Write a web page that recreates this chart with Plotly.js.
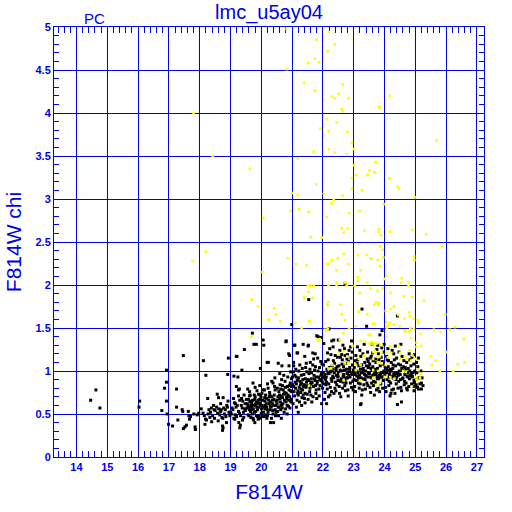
<!DOCTYPE html>
<html><head><meta charset="utf-8">
<script src="https://cdn.plot.ly/plotly-3.0.1.min.js"></script>
<style>html,body{margin:0;padding:0;background:#fff}#chart{width:512px;height:512px}</style>
</head><body><div id="chart"></div>
<script>
// [F814W magnitude, F814W chi] for stars drawn in black
const blackStars = [
[14.46,0.66],[14.63,0.78],[14.76,0.57],[16.05,0.65],[16.03,0.58],[16.77,0.54],[16.86,0.80],[16.92,0.87],[16.92,1.01],[16.92,0.65],[16.94,0.50],[16.99,0.38],
[17.12,0.36],[17.25,0.79],[17.47,1.18],[17.25,0.58],[17.29,0.43],[17.43,0.55],[17.45,0.53],[17.47,0.33],[17.52,0.35],[17.57,0.37],[17.65,0.48],[17.67,0.44],[17.63,0.53],[17.81,0.50],[17.85,0.35],[17.86,0.32],[17.92,0.49],[17.97,0.51],[17.70,0.47],
[18.05,0.56],[18.12,1.12],[18.20,0.95],[18.26,0.68],[18.11,0.51],[18.19,0.44],[18.22,0.43],[18.33,0.46],[18.47,0.55],[18.50,0.54],[18.39,0.41],[18.17,0.38],[18.30,0.55],[18.35,0.52],[18.42,0.48],[18.27,0.50],[18.45,0.60],[18.38,0.57],[18.15,0.48],[18.48,0.45],
[18.57,0.73],[18.61,0.69],[18.55,0.58],[18.68,0.53],[18.70,0.55],[18.72,0.46],[18.75,0.45],[18.74,0.36],[18.76,0.34],[18.74,0.31],[18.60,0.42],[18.76,0.69],[18.88,0.60],[18.90,0.58],[18.93,1.15],[18.91,0.96],[18.80,0.50],[18.83,0.55],[18.85,0.47],[18.65,0.49],[18.95,0.52],[18.58,0.51],[18.62,0.56],[18.78,0.57],[18.98,0.48],[18.87,0.40],[18.68,0.62],[18.92,0.65],
[19.00,0.52],[19.03,0.50],[19.11,0.45],[19.14,0.44],[19.11,0.94],[19.13,0.63],[19.16,0.62],[19.19,1.17],[19.24,0.93],[19.19,0.82],[19.26,0.78],[19.29,0.79],[19.26,0.71],[19.27,0.40],[19.30,0.34],[19.32,0.37],[19.26,0.53],[19.29,0.51],[19.37,1.01],[19.45,1.25],[19.46,0.56],[19.48,0.54],[19.43,0.46],[19.21,1.17],[19.05,0.57],[19.08,0.55],[19.18,0.58],[19.22,0.60],[19.35,0.60],[19.38,0.57],[19.40,0.65],[19.42,0.52],[19.33,0.48],[19.15,0.49],[19.20,0.47],[19.36,0.68],[19.44,0.72],[19.10,0.68],[19.47,0.62],[19.30,0.66],[19.39,0.43],
[19.54,0.62],[19.57,0.60],[19.57,0.49],[19.60,0.48],[19.56,0.79],[19.62,0.71],[19.64,0.72],[19.66,0.65],[19.69,0.63],[19.72,0.66],[19.73,0.45],[19.75,0.43],[19.77,0.72],[19.80,0.70],[19.80,0.81],[19.71,1.44],[19.76,1.31],[19.84,1.31],[19.97,1.03],[19.73,0.86],[19.95,0.83],[19.90,0.66],[19.95,0.67],[19.85,0.58],[19.92,0.58],[19.98,0.60],[19.88,0.47],[19.93,0.48],[19.90,0.44],[19.97,0.45],[19.78,0.52],[19.82,0.53],[19.70,0.55],[19.65,0.53],[19.60,0.58],[19.87,0.62],[19.53,0.57],[19.58,0.67],[19.62,0.76],[19.68,0.58],[19.75,0.60],[19.83,0.64],[19.91,0.73],[19.86,0.77],[19.99,0.70],[19.66,0.46],[19.79,0.40],[19.52,0.67],
[19.61,0.55],[19.67,0.60],[19.74,0.56],[19.81,0.61],[19.88,0.55],[19.94,0.63],[20.01,0.56],[20.07,0.52],[20.13,0.60],[20.19,0.55],[20.24,0.66],[20.29,0.59],[20.36,0.62],[20.41,0.67],[20.47,0.60],[19.70,0.50],[19.84,0.48],[20.00,0.51],[20.18,0.45],[20.37,0.54],[19.63,0.64],[19.79,0.67],[19.96,0.72],[20.11,0.69],[20.28,0.72],[20.43,0.82],
[20.06,1.36],[20.19,1.10],[20.06,0.78],[20.10,0.78],[20.08,1.30],[20.23,1.10],[20.03,0.60],[20.08,0.58],[20.12,0.56],[20.17,0.58],[20.03,0.47],[20.10,0.47],[20.15,0.49],[20.20,0.48],[20.05,0.66],[20.12,0.65],[20.18,0.68],[20.25,0.62],[20.30,0.64],[20.35,0.70],[20.34,0.88],[20.38,0.86],[20.30,0.40],[20.40,0.40],[20.22,0.52],[20.28,0.55],[20.32,0.58],[20.40,0.60],[20.45,0.55],[20.48,0.65],[20.42,0.72],[20.27,0.75],[20.22,0.80],[20.45,0.78],[20.14,0.72],[20.38,0.50],[20.48,0.52],[20.02,0.74],[20.20,0.85],[20.44,0.92],[20.36,0.66],[20.16,0.62],[20.26,0.70],[20.46,0.48],[20.33,0.45],
[20.55,1.09],[20.60,0.97],[20.81,1.35],[20.80,1.34],[20.92,1.18],[20.89,1.20],[20.90,1.06],[20.67,1.06],[20.99,1.54],
[20.51,0.62],[20.57,0.76],[20.63,0.55],[20.69,0.83],[20.75,0.66],[20.81,0.74],[20.88,0.59],[20.94,0.86],
[20.52,0.80],[20.58,0.58],[20.64,0.71],[20.70,0.62],[20.77,0.88],[20.83,0.68],[20.90,0.78],[20.96,0.64],
[20.53,0.53],[20.60,0.68],[20.66,0.90],[20.72,0.73],[20.79,0.56],[20.85,0.82],[20.92,0.70],[20.98,0.91],
[20.54,0.70],[20.61,0.84],[20.67,0.61],[20.74,0.52],[20.80,0.64],[20.86,0.93],[20.93,0.57],[20.99,0.76],
[20.56,0.48],[20.65,0.45],[20.73,0.95],[20.84,0.50],[20.95,0.99],[20.71,0.78],[20.87,0.72],[20.62,0.64],[20.97,0.67],
[20.52,0.66],[20.59,0.72],[20.64,0.60],[20.69,0.69],[20.76,0.75],[20.82,0.70],[20.89,0.66],[20.95,0.77],[20.55,0.58],[20.68,0.57],[20.78,0.81],[20.91,0.83],[20.63,0.79],[20.84,0.60],[20.98,0.82],
[21.07,1.30],[21.09,1.30],[21.18,1.21],[21.16,1.21],[21.05,1.10],[21.05,1.06],[21.36,1.31],[21.41,1.17],
[21.02,0.84],[21.08,0.71],[21.13,0.93],[21.19,0.77],[21.26,0.88],[21.32,0.69],[21.38,0.96],[21.45,0.81],
[21.03,0.62],[21.10,0.87],[21.16,0.66],[21.22,1.00],[21.29,0.79],[21.35,0.90],[21.42,0.74],[21.48,0.99],
[21.04,0.99],[21.11,0.80],[21.17,0.89],[21.24,0.64],[21.30,0.95],[21.37,0.82],[21.44,1.04],
[21.06,0.76],[21.12,1.02],[21.20,0.72],[21.27,0.84],[21.33,1.03],[21.40,0.68],[21.47,0.87],
[21.01,0.93],[21.14,0.58],[21.21,0.92],[21.28,0.75],[21.34,0.78],[21.43,0.91],[21.49,0.73],
[21.20,0.52],[21.42,0.63],[21.09,0.95],[21.25,1.07],[21.46,1.09],[21.31,0.60],
[21.05,0.82],[21.14,0.85],[21.23,0.81],[21.31,0.86],[21.39,0.84],[21.47,0.83],[21.18,0.74],[21.36,0.72],
[21.53,1.30],[21.52,1.29],[21.67,1.21],[21.75,1.20],[21.80,1.41],[21.84,1.40],[21.93,1.39],[21.54,1.83],
[21.51,0.90],[21.57,0.76],[21.63,0.98],[21.69,0.82],[21.76,1.05],[21.82,0.88],[21.88,0.71],[21.95,0.97],
[21.52,0.67],[21.58,1.02],[21.65,0.86],[21.71,0.95],[21.78,0.78],[21.84,1.00],[21.91,0.83],[21.97,1.08],
[21.55,0.97],[21.61,0.72],[21.67,1.07],[21.74,0.89],[21.80,0.68],[21.86,0.93],[21.93,1.11],[21.99,0.80],
[21.56,0.83],[21.62,0.91],[21.68,0.70],[21.73,1.01],[21.79,0.93],[21.87,0.79],[21.94,0.89],
[21.59,1.10],[21.70,1.14],[21.83,1.15],[21.96,0.62],[21.64,0.64],[21.77,0.74],[21.89,1.04],[21.98,0.92],[21.60,0.85],
[21.55,0.89],[21.63,0.87],[21.72,0.91],[21.81,0.85],[21.90,0.90],[21.98,0.87],[21.58,0.80],[21.76,0.83],[21.94,0.95],
[22.03,1.32],[22.20,1.49],[22.35,1.36],[22.33,1.28],[22.29,1.35],[22.05,0.67],[22.12,0.62],
[22.02,1.07],[22.11,0.93],[22.17,1.13],[22.24,0.81],[22.31,1.02],[22.41,0.87],[22.47,1.16],
[22.06,0.96],[22.14,0.79],[22.21,1.04],[22.27,0.91],[22.36,0.74],[22.43,1.01],[22.49,0.89],
[22.04,0.85],[22.09,1.11],[22.16,0.97],[22.23,0.72],[22.29,0.88],[22.38,1.09],[22.44,0.95],
[22.07,0.75],[22.13,1.02],[22.19,0.85],[22.26,1.19],[22.32,0.94],[22.39,0.80],[22.46,1.05],
[22.08,0.90],[22.18,0.70],[22.25,0.99],[22.34,1.12],[22.42,0.77],[22.48,0.93],
[22.15,1.21],[22.37,0.98],[22.22,1.26],[22.01,0.98],[22.28,0.76],[22.45,0.84],[22.10,0.84],[22.30,1.06],[22.40,1.18],
[22.05,0.93],[22.20,0.97],[22.35,0.92],[22.12,0.87],[22.42,1.03],[22.27,1.00],
[22.50,1.36],[22.55,1.24],[22.65,1.30],[22.72,1.18],[22.72,2.02],[22.70,1.26],
[22.52,1.06],[22.59,0.91],[22.63,1.13],[22.71,0.83],[22.77,1.02],[22.84,0.95],[22.91,1.15],[22.97,0.88],
[22.53,0.82],[22.60,1.00],[22.67,0.93],[22.74,1.09],[22.81,0.78],[22.87,1.04],[22.94,0.97],
[22.51,0.95],[22.57,1.16],[22.64,0.80],[22.69,1.01],[22.76,0.92],[22.83,1.11],[22.89,0.86],[22.96,1.07],
[22.54,0.74],[22.62,1.08],[22.68,0.96],[22.75,0.86],[22.80,1.19],[22.86,0.99],[22.93,0.81],[22.99,1.01],
[22.56,1.01],[22.66,0.87],[22.73,0.77],[22.79,0.97],[22.88,0.93],[22.95,1.22],
[22.61,1.19],[22.78,1.14],[22.90,1.28],[22.58,0.70],[22.82,0.71],[22.93,1.35],[22.98,0.78],[22.85,1.24],[22.67,1.05],
[22.50,0.98],[22.65,0.95],[22.80,0.92],[22.95,0.96],[22.72,0.89],[22.57,0.88],[22.87,1.02],
[23.27,1.72],[23.42,1.52],[23.24,0.62],[23.22,0.61],
[23.02,1.04],[23.08,0.89],[23.13,1.13],[23.19,0.95],[23.26,1.07],[23.33,0.84],[23.39,1.00],[23.46,0.93],
[23.03,0.82],[23.10,1.00],[23.16,0.92],[23.23,1.17],[23.29,0.98],[23.36,1.10],[23.43,0.86],[23.49,1.05],
[23.05,0.96],[23.11,1.09],[23.18,0.80],[23.24,0.92],[23.31,1.03],[23.37,0.90],[23.44,1.14],
[23.01,0.90],[23.07,1.18],[23.14,0.98],[23.21,0.85],[23.28,0.78],[23.35,0.96],[23.41,1.06],[23.48,0.98],
[23.06,0.76],[23.15,0.86],[23.22,1.02],[23.30,1.20],[23.38,0.79],[23.46,0.83],
[23.12,1.28],[23.34,1.31],[23.45,1.22],[23.26,0.72],[23.04,1.12],[23.20,1.24],[23.40,0.94],[23.17,1.06],[23.32,0.91],[23.47,1.11],
[23.10,0.94],[23.25,0.98],[23.40,0.95],[23.02,0.97],[23.32,1.00],[23.17,0.90],[23.47,1.04],
[23.60,1.31],[23.92,1.47],[23.99,1.31],[23.85,1.42],[23.78,1.30],
[23.52,1.08],[23.58,0.92],[23.63,1.12],[23.70,0.87],[23.77,1.03],[23.83,0.95],[23.89,1.16],[23.96,0.89],
[23.53,0.81],[23.59,1.01],[23.66,0.96],[23.72,1.10],[23.79,0.80],[23.86,1.06],[23.93,0.98],
[23.51,0.97],[23.57,1.17],[23.64,0.83],[23.69,1.02],[23.76,0.93],[23.82,1.13],[23.88,0.85],[23.95,1.08],
[23.55,0.75],[23.62,1.05],[23.68,0.99],[23.74,0.78],[23.80,1.20],[23.87,0.97],[23.94,0.80],[23.98,1.00],
[23.56,1.03],[23.65,0.88],[23.73,0.96],[23.81,0.91],[23.90,0.93],[23.97,1.22],
[23.61,1.21],[23.75,1.25],[23.91,1.27],[23.67,0.72],[23.84,0.76],[23.54,1.15],[23.71,1.14],[23.93,1.11],[23.58,0.86],[23.78,0.99],
[23.55,0.93],[23.70,0.97],[23.85,0.94],[23.62,0.95],[23.92,0.93],[23.77,0.91],
[24.42,1.64],[24.53,1.31],[24.18,0.71],[24.42,0.61],
[24.02,1.05],[24.08,0.90],[24.13,1.12],[24.20,0.86],[24.27,1.03],[24.33,0.95],[24.39,1.15],[24.46,0.88],
[24.03,0.81],[24.10,1.01],[24.16,0.96],[24.22,1.10],[24.29,0.79],[24.36,1.06],[24.43,0.98],
[24.01,0.96],[24.07,1.17],[24.14,0.83],[24.19,1.02],[24.26,0.93],[24.32,1.13],[24.38,0.85],[24.45,1.08],
[24.05,0.76],[24.12,1.05],[24.18,0.99],[24.24,0.78],[24.30,1.20],[24.37,0.97],[24.44,0.80],[24.48,1.00],
[24.06,1.03],[24.15,0.88],[24.23,0.94],[24.31,0.91],[24.40,0.93],[24.47,1.22],
[24.11,1.26],[24.25,1.24],[24.35,1.29],[24.21,0.74],[24.34,0.74],[24.09,1.13],[24.28,1.07],
[24.00,0.99],[24.15,0.93],[24.30,0.97],[24.45,0.95],[24.22,1.01],[24.07,0.98],[24.37,0.90],
[24.55,0.64],[24.72,0.80],[24.96,0.77],
[24.52,1.07],[24.58,0.91],[24.63,1.12],[24.70,0.86],[24.77,1.03],[24.83,0.95],[24.89,1.16],[24.96,0.89],
[24.53,0.81],[24.59,1.01],[24.66,0.96],[24.72,1.10],[24.79,0.82],[24.86,1.06],[24.93,0.98],
[24.51,0.96],[24.57,1.17],[24.64,0.84],[24.69,1.02],[24.76,0.93],[24.82,1.13],[24.88,0.85],[24.95,1.08],
[24.55,0.77],[24.62,1.05],[24.68,0.99],[24.74,0.78],[24.80,1.20],[24.87,0.97],[24.94,0.82],[24.98,1.00],
[24.56,1.03],[24.65,0.88],[24.73,0.94],[24.81,0.91],[24.90,0.93],[24.97,1.19],
[24.60,0.92],[24.75,0.98],[24.90,0.94],[24.52,0.90],[24.82,1.00],[24.67,1.04],[24.97,0.86],
[25.07,0.81],[25.10,0.79],[25.20,0.79],[25.20,0.86],[25.02,0.90],[25.05,0.98],[25.08,1.05],[25.12,0.92],[25.15,0.85],[25.04,1.10],[25.18,1.00],[25.25,0.83],[25.03,0.84],[25.10,1.15],[25.22,0.92]
];

// [F814W magnitude, F814W chi] for stars drawn in yellow
const yellowStars = [
[20.82,4.98],[22.19,4.94],[21.79,4.85],[22.38,4.80],[22.16,4.72],[21.74,4.63],[21.51,4.58],[21.87,4.59],[20.82,4.51],[21.38,4.35],[22.64,4.33],[21.74,4.26],[22.51,4.22],[22.29,4.19],[22.38,4.17],[22.83,4.17],[23.82,4.07],[22.61,4.05],[22.64,4.02],[22.13,3.93],[22.45,3.89],[21.92,3.82],[22.19,3.79],[22.80,3.78],[22.94,3.65],[23.01,3.58],[22.19,3.58],[21.70,3.55],[22.39,3.54],[22.77,3.52],[21.18,3.47],[19.63,3.35],[23.01,3.39],[23.72,3.43],[23.51,3.33],[23.46,3.28],[23.69,3.31],[23.07,3.28],[22.94,3.24],
[17.80,4.00],[18.42,3.50],[18.20,2.39],[17.77,2.28],[19.69,1.83],[19.69,1.40],
[24.17,4.20],[23.85,4.07],[25.69,3.68],[24.17,3.24],[24.43,3.14],[24.47,3.12],[24.98,3.02],[23.97,2.94],[25.36,2.59],[24.91,2.64],[25.86,2.45],[23.94,2.41],[23.85,2.45],
[21.79,3.17],[21.00,3.07],[21.18,3.05],[22.03,3.06],[22.64,3.04],[22.35,2.99],[22.28,2.95],[22.94,3.12],[23.26,3.10],[23.44,3.28],[21.22,2.88],[20.95,2.86],[21.53,2.85],[22.86,2.84],[23.20,2.86],[22.12,2.79],[20.06,2.78],[22.61,2.66],[22.81,2.66],[22.68,2.61],[23.35,2.63],[23.82,2.65],[21.60,2.56],[21.96,2.55],[20.86,2.31],[21.12,2.24],[21.47,2.23],[22.28,2.29],[22.16,2.24],[22.48,2.31],[22.68,2.36],[23.14,2.35],[23.42,2.35],[23.55,2.31],[23.78,2.29],[22.83,2.24],[22.44,2.17],[23.22,2.17],[23.13,2.09],[23.13,2.05],[20.04,2.15],[23.44,2.03],[22.46,2.03],[22.71,2.03],[22.75,2.03],[21.51,1.99],[21.60,1.99],[22.18,2.00],[22.44,2.00],[22.77,1.99],[23.03,1.99],[23.20,1.91],[23.54,1.96],[23.78,1.93],[19.89,1.75],[21.38,1.86],[21.40,1.84],[21.53,1.92],[22.17,1.80],[22.15,1.77],[22.57,1.77],[20.41,1.73],[20.47,1.66],[20.25,1.59],[20.62,1.58],[21.08,1.56],[21.57,1.58],[21.31,1.50],[22.61,1.66],[22.72,1.59],[23.16,1.69],[23.44,1.66],[23.67,1.77],[23.80,1.77],[23.63,1.55],[23.07,1.52],[22.85,1.49],[22.07,1.48],[22.66,1.44],[23.55,1.42],
[23.71,3.43],[23.67,3.31],[24.16,3.24],[23.88,2.58],[23.81,2.62],[24.17,2.62],[23.57,2.31],[23.96,2.32],[24.96,2.33],[24.95,2.29],[23.85,2.22],[24.00,2.07],[24.06,2.11],[24.56,2.08],[24.54,2.03],[24.78,2.03],[24.78,1.99],[23.94,1.96],[24.19,1.91],[24.63,1.87],[24.91,1.86],[25.28,1.82],[23.72,1.80],[23.80,1.79],[24.04,1.70],[24.19,1.72],[24.30,1.75],[24.80,1.68],[25.08,1.59],[24.65,1.61],[25.97,1.66],[24.45,1.65],[23.67,1.55],[24.07,1.52],[24.08,1.50],[24.95,1.49],[24.84,1.48],[24.67,1.46],[25.17,1.43],[25.60,1.48],[25.82,1.45],[26.12,1.48],[26.29,1.51],[26.57,1.37],
[24.17,1.56],[24.30,1.54],[24.82,1.64],[24.95,1.61],[25.10,1.56],[24.06,1.57],[24.10,1.53],[24.50,1.52],[24.84,1.50],[24.80,1.46],[24.67,1.47],
[24.06,1.40],[23.59,1.34],[23.76,1.32],[23.91,1.30],[24.17,1.29],[24.47,1.29],[24.86,1.38],[25.04,1.33],[25.04,1.28],[25.19,1.29],[25.51,1.17],[25.66,1.12],[26.01,1.22],[26.38,1.08],[26.60,1.10],[25.54,1.07],[25.80,1.00],[26.23,1.00],
[23.70,1.22],[23.85,1.17],[23.91,1.22],[23.63,1.14],[24.06,1.22],[24.21,1.21],[24.11,1.16],[24.50,1.21],[24.67,1.17],[24.82,1.24],[24.91,1.18],[24.86,1.12],[25.02,1.14],[24.73,1.14],[24.50,1.14],[23.91,1.09],[24.04,1.07],[24.61,1.00],[24.69,0.99],[25.10,1.01],[25.17,0.97],[25.02,0.93],[25.15,0.92],[24.02,0.93],[25.04,0.90],[24.89,0.82],[23.63,0.92],[23.85,0.86],[24.19,0.93],[24.32,0.91],
[21.90,1.37],[21.86,1.35],[22.55,1.36],[22.96,1.29],[23.22,1.35],[23.35,1.34],[23.48,1.42],[23.52,1.32],[23.61,1.31],[23.69,1.32],[22.51,1.21],[22.66,1.23],[22.79,1.17],[22.83,1.10],[22.72,1.09],[23.17,1.14],[23.33,1.18],[23.05,1.08],[23.22,1.07],[22.31,1.07],[22.27,1.03],[22.18,1.03],[22.57,0.96],[22.68,0.89],[23.07,1.01],[23.20,0.89],[23.63,1.22],[23.69,1.23],[23.74,1.17],[23.78,1.10],[23.63,1.01],[23.80,1.00],[21.55,0.83],[23.74,0.83],
[20.23,1.60],[21.55,1.58],[21.10,1.56],[21.70,1.99],[21.83,1.36],[22.09,1.47],[22.16,1.49],[21.66,1.85],[22.16,2.25],[22.29,2.29],[23.55,2.31],[24.97,2.29]
];

const chartTitle = 'lmc_u5ay04';
const cornerLabel = 'PC';
const xTitle = 'F814W';
const yTitle = 'F814W chi';

const BLUE = '#0000e6';
const tickFont = {family: 'Liberation Sans, Arial, sans-serif', size: 11, color: BLUE, weight: 'bold'};
const textFont = {family: 'Liberation Sans, Arial, sans-serif', color: BLUE};

const traces = [
  {type: 'scatter', mode: 'markers', x: blackStars.map(p => p[0]), y: blackStars.map(p => p[1]),
   marker: {symbol: 'square', size: 3, color: '#000000', line: {width: 0}}, hoverinfo: 'skip'},
  {type: 'scatter', mode: 'markers', x: yellowStars.map(p => p[0]), y: yellowStars.map(p => p[1]),
   marker: {symbol: 'square', size: 2.6, color: '#ffff00', line: {width: 0}}, hoverinfo: 'skip'}
];

const axisCommon = {
  showgrid: true, gridcolor: BLUE, gridwidth: 1, zeroline: false,
  showline: true, linecolor: BLUE, linewidth: 1, mirror: 'allticks',
  ticks: 'inside', tickcolor: BLUE, tickwidth: 1, tickfont: tickFont, layer: 'below traces'
};

const layout = {
  width: 512, height: 512,
  margin: {l: 54, r: 28, t: 27, b: 55},
  paper_bgcolor: '#ffffff', plot_bgcolor: '#ffffff',
  showlegend: false,
  title: {text: chartTitle, font: Object.assign({size: 20}, textFont), x: 0.5, xref: 'paper', y: 1 - 12/512, yref: 'container', yanchor: 'middle'},
  xaxis: Object.assign({}, axisCommon, {
    range: [13.27, 27.23], tick0: 0, dtick: 1, ticklen: 6,
    minor: {dtick: 0.2, ticks: 'inside', ticklen: 6, tickcolor: BLUE, showgrid: false},
    title: {text: xTitle, font: Object.assign({size: 21}, textFont), standoff: 12}
  }),
  yaxis: Object.assign({}, axisCommon, {
    range: [0, 5], tick0: 0, dtick: 0.5, ticklen: 5,
    minor: {dtick: 0.1, ticks: 'inside', ticklen: 5, tickcolor: BLUE, showgrid: false},
    title: {text: yTitle, font: Object.assign({size: 21}, textFont), standoff: 8}
  }),
  annotations: [
    {text: cornerLabel, xref: 'paper', yref: 'paper', x: 0.095, y: 1 + 9/430, xanchor: 'center', yanchor: 'middle',
     showarrow: false, font: Object.assign({size: 15}, textFont)}
  ]
};

Plotly.newPlot('chart', traces, layout, {staticPlot: true, displayModeBar: false});
</script>
</body></html>
